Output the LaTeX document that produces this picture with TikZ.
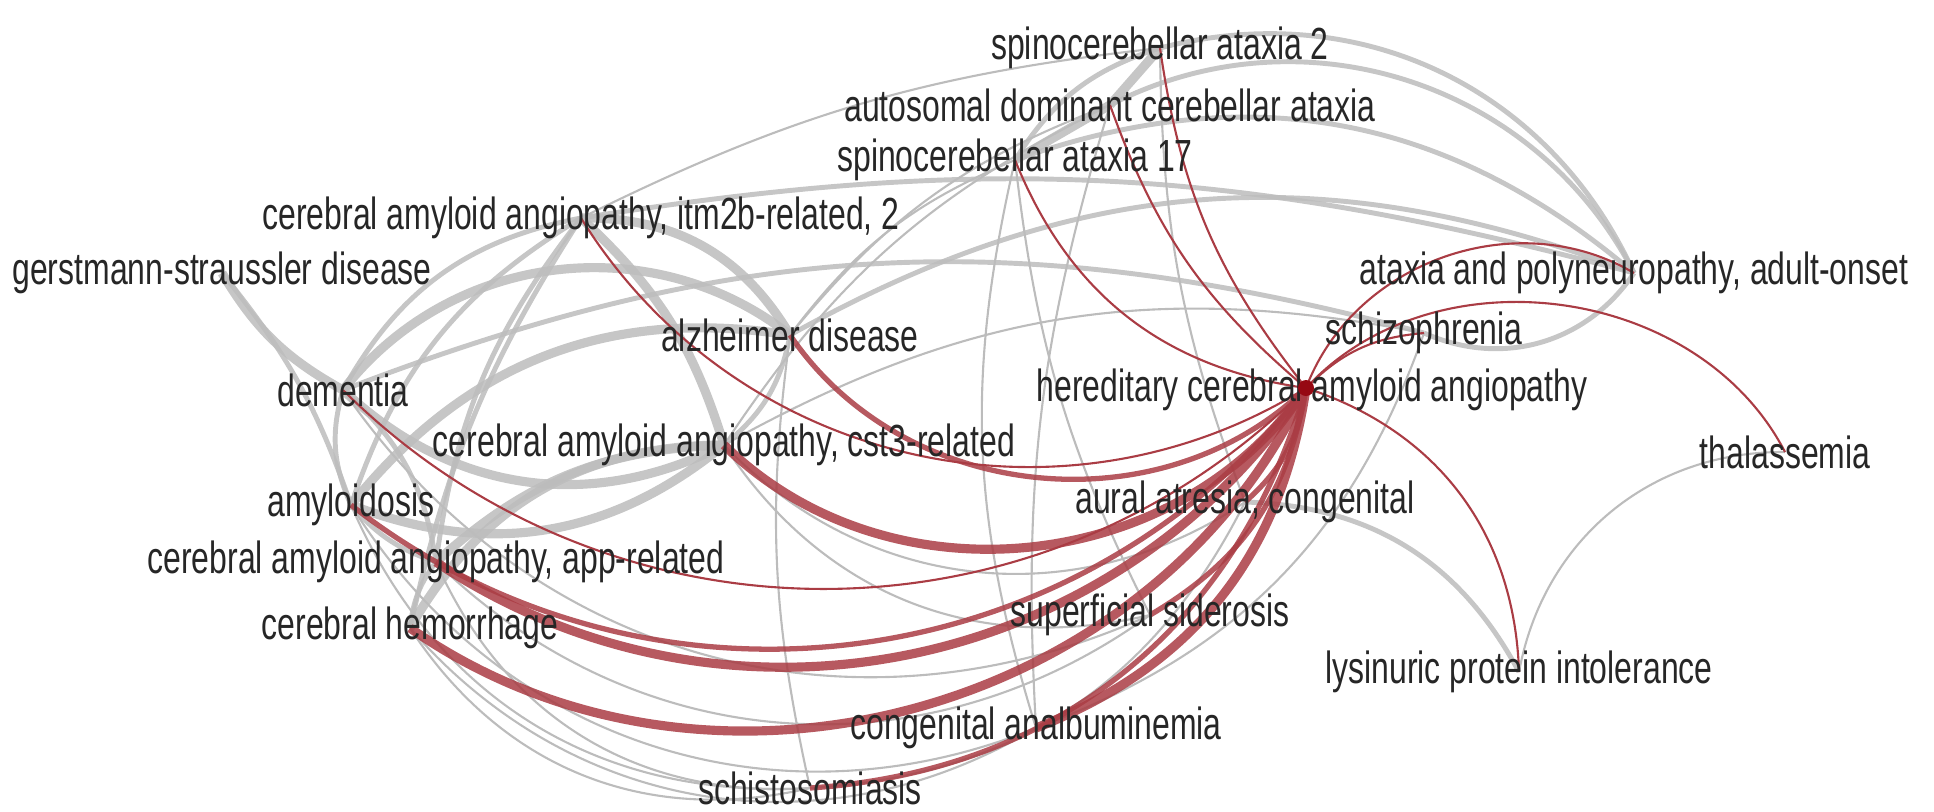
\documentclass[tikz,border=0pt]{standalone}
\usepackage{fontspec}
\setmainfont{Liberation Sans}[FakeStretch=0.71]
\usetikzlibrary{backgrounds}

\definecolor{edgegray}{RGB}{188,188,188}
\definecolor{edgered}{RGB}{170,60,68}
\definecolor{labeltext}{RGB}{38,38,38}
\definecolor{hubred}{RGB}{150,8,18}

\begin{document}
\begin{tikzpicture}[x=0.01cm, y=-0.01cm,
    disease/.style={font=\fontsize{12.8}{15}\selectfont, text=labeltext, inner sep=0pt},
    gthick/.style={draw=edgegray, line width=2.6pt, opacity=0.85},
    gmid/.style={draw=edgegray, line width=1.4pt, opacity=0.85},
    gthin/.style={draw=edgegray, line width=0.6pt},
    rthick/.style={draw=edgered, line width=2.6pt, opacity=0.85},
    rmid/.style={draw=edgered, line width=1.5pt, opacity=0.85},
    rthin/.style={draw=edgered, line width=0.6pt}]
  \useasboundingbox (0,0) rectangle (1934,811);

  % diseases
  \node[disease] (scatwo) at (1160,48) {spinocerebellar ataxia 2};
  \node[disease] (adca) at (1110,105) {autosomal dominant cerebellar ataxia};
  \node[disease] (scaseventeen) at (1015,160) {spinocerebellar ataxia 17};
  \node[disease] (caaitm) at (581,218) {cerebral amyloid angiopathy, itm2b-related, 2};
  \node[disease] (gss) at (222,273) {gerstmann-straussler disease};
  \node[disease] (apadult) at (1634,273) {ataxia and polyneuropathy, adult-onset};
  \node[disease] (alz) at (790,335) {alzheimer disease};
  \node[disease] (schizo) at (1424,333) {schizophrenia};
  \node[disease] (dem) at (343,390) {dementia};
  \node[disease] (hcaa) at (1312,390) {hereditary cerebral amyloid angiopathy};
  \node[disease] (caacst) at (724,445) {cerebral amyloid angiopathy, cst3-related};
  \node[disease] (thal) at (1785,452) {thalassemia};
  \node[disease] (amyl) at (351,505) {amyloidosis};
  \node[disease] (aural) at (1245,502) {aural atresia, congenital};
  \node[disease] (caaapp) at (436,562) {cerebral amyloid angiopathy, app-related};
  \node[disease] (hemo) at (410,628) {cerebral hemorrhage};
  \node[disease] (siders) at (1150,615) {superficial siderosis};
  \node[disease] (lysin) at (1519,672) {lysinuric protein intolerance};
  \node[disease] (analb) at (1036,728) {congenital analbuminemia};
  \node[disease] (schisto) at (810,788) {schistosomiasis};
  \node[circle, fill=hubred, inner sep=0pt, minimum size=0.16cm] (hub) at (1306,388) {};

  \begin{pgfonlayer}{background}
    % shared genes, gray
    \path[gthin]
      (alz.center) edge[bend left=15] (scaseventeen.center)
      (alz.center) edge[bend left=15] (adca.center)
      (caaitm.center) edge[bend left=10] (scatwo.center)
      (caacst.center) edge[bend left=15] (adca.center)
      (caacst.center) edge[bend left=20] (schizo.center)
      (scaseventeen.center) edge[bend right=10] (siders.center)
      (scatwo.center) edge[bend right=10] (aural.center)
      (adca.center) edge[bend right=10] (analb.center)
      (scaseventeen.center) edge[bend right=15] (analb.center)
      (alz.center) edge[bend right=10] (schisto.center)
      (hemo.center) edge[bend right=35] (schisto.center)
      (hemo.center) edge[bend right=40] (analb.center)
      (caaapp.center) edge[bend right=40] (siders.center)
      (amyl.center) edge[bend right=40] (analb.center)
      (dem.center) edge[bend right=40] (siders.center)
      (caaapp.center) edge[bend right=35] (schisto.center)
      (amyl.center) edge[bend right=35] (schisto.center)
      (caacst.center) edge[bend right=35] (siders.center)
      (caacst.center) edge[bend right=40] (aural.center)
      (schisto.center) edge[bend right=30] (aural.center)
      (analb.center) edge[bend right=25] (schizo.center)
      (lysin.center) edge[bend left=40] (thal.center);
    \path[gmid]
      (gss.center) edge[bend left=10] (amyl.center)
      (dem.center) edge[bend left=25] (caaitm.center)
      (caaitm.center) edge[bend right=15] (caaapp.center)
      (caaitm.center) edge[bend right=10] (hemo.center)
      (caaitm.center) edge[bend right=20] (amyl.center)
      (alz.center) edge[bend left=20] (caacst.center)
      (dem.center) edge[bend right=20] (amyl.center)
      (amyl.center) edge[bend right=15] (caaapp.center)
      (caaapp.center) edge[bend right=15] (hemo.center)
      (dem.center) edge[bend left=20] (caaapp.center)
      (scatwo.center) edge[bend right=20] (scaseventeen.center)
      (scatwo.center) edge[bend left=40] (apadult.center)
      (adca.center) edge[bend left=45] (apadult.center)
      (scaseventeen.center) edge[bend left=30] (apadult.center)
      (alz.center) edge[bend left=25] (apadult.center)
      (caaitm.center) edge[bend left=12] (apadult.center)
      (dem.center) edge[bend left=18] (schizo.center)
      (apadult.center) edge[bend left=40] (schizo.center)
      (aural.center) edge[bend left=30] (lysin.center);
    \path[gthick]
      (gss.center) edge[bend right=15] (dem.center)
      (dem.center) edge[bend left=45] (alz.center)
      (dem.center) edge[bend right=35] (caacst.center)
      (amyl.center) edge[bend left=30] (alz.center)
      (amyl.center) edge[bend right=30] (caacst.center)
      (caaapp.center) edge[bend left=20] (caacst.center)
      (hemo.center) edge[bend left=30] (caacst.center)
      (caaitm.center) edge[bend left=15] (caacst.center)
      (caaitm.center) edge[bend left=30] (alz.center)
      (scatwo.center) edge (adca.center)
      (adca.center) edge (scaseventeen.center);
    % links of the highlighted disease, red
    \path[rthin]
      (caaitm.center) edge[bend right=45] (hub.center)
      (dem.center) edge[bend right=45] (hub.center)
      (scaseventeen.center) edge[bend right=30] (hub.center)
      (adca.center) edge[bend right=15] (hub.center)
      (scatwo.center) edge[bend right=15] (hub.center)
      (hub.center) edge[bend left=20] (schizo.center)
      (hub.center) edge[bend left=50] (apadult.center)
      (hub.center) edge[bend left=55] (thal.center)
      (hub.center) edge[bend left=35] (lysin.center);
    \path[rmid]
      (alz.center) edge[bend right=50] (hub.center)
      (amyl.center) edge[bend right=45] (hub.center)
      (schisto.center) edge[bend right=35] (hub.center)
      (siders.center) edge[bend right=25] (hub.center)
      (aural.center) edge[bend right=20] (hub.center);
    \path[rthick]
      (caacst.center) edge[bend right=50] (hub.center)
      (caaapp.center) edge[bend right=45] (hub.center)
      (hemo.center) edge[bend right=50] (hub.center)
      (analb.center) edge[bend right=30] (hub.center);
  \end{pgfonlayer}
\end{tikzpicture}
\end{document}
